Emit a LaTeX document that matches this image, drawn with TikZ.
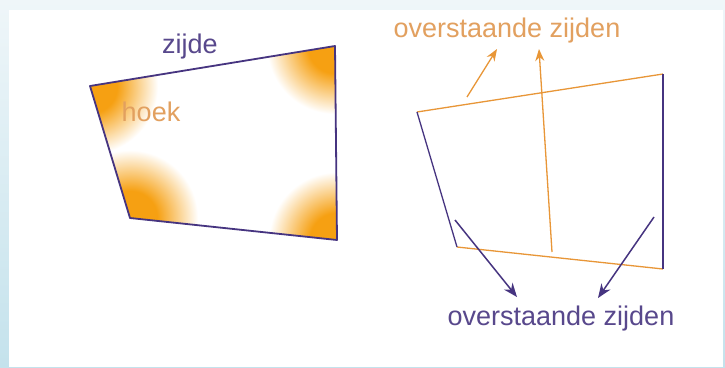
\documentclass[tikz,border=0pt]{standalone}
\usepackage{fontspec}
\setmainfont{Liberation Sans}
\usetikzlibrary{arrows.meta}
\definecolor{paars}{RGB}{70,52,128}
\definecolor{tekstpaars}{RGB}{88,72,140}
\definecolor{oranje}{RGB}{232,150,55}
\definecolor{tekstoranje}{RGB}{226,160,95}
\definecolor{hoekoranje}{RGB}{246,160,18}
\definecolor{bgtop}{RGB}{239,246,249}
\definecolor{bgbot}{RGB}{196,226,236}
\pgfdeclareradialshading{hoekvlek}{\pgfpoint{0bp}{0bp}}{color(0bp)=(hoekoranje); color(10bp)=(hoekoranje); color(25bp)=(white); color(50bp)=(white)}
\tikzset{
  tekst/.style={font=\fontsize{27}{32}\selectfont, inner sep=0pt, anchor=base},
  paarspijl/.style={draw=paars, line width=1.5pt, -{Stealth[length=14pt,width=11pt]}},
  oranjepijl/.style={draw=oranje, line width=1.3pt, -{Stealth[length=12pt,width=9pt]}}
}

\begin{document}
\begin{tikzpicture}[x=1pt,y=-1pt]
\useasboundingbox (0,0) rectangle (725,367);
% Background
\shade[top color=bgtop, bottom color=bgbot] (0,0) rectangle (725,367);
\fill[white] (9,10) rectangle (723,367);

% Left quadrilateral: zijde en hoek
\coordinate (A) at (90,86);
\coordinate (B) at (335,46);
\coordinate (C) at (337,240);
\coordinate (D) at (130,218);
\begin{scope}
\clip (A) -- (B) -- (C) -- (D) -- cycle;
\foreach \c in {A,B,C,D} {
  \shade[shading=hoekvlek] (\c) circle (68pt);
}
\end{scope}
\draw[paars, line width=1.8pt, line join=round] (A) -- (B) -- (C) -- (D) -- cycle;
\node[tekst, text=tekstpaars] (zijde) at (190,53) {zijde};
\node[tekst, text=tekstoranje] (hoek) at (151,121) {hoek};

% Right quadrilateral: overstaande zijden
\coordinate (E) at (417,112);
\coordinate (F) at (663,74);
\coordinate (G) at (663,269);
\coordinate (H) at (457,247);
\draw[oranje, line width=1.3pt] (E) -- (F);
\draw[oranje, line width=1.3pt] (H) -- (G);
\draw[paars, line width=1.3pt] (E) -- (H);
\draw[paars, line width=1.3pt] (F) -- (G);

% Labels
\node[tekst, text=tekstoranje] (boven) at (507,37) {overstaande zijden};
\node[tekst, text=tekstpaars] (onder) at (561,325) {overstaande zijden};

% Arrows
\coordinate (o1) at (467,97);
\coordinate (o1t) at (497,49);
\coordinate (o2) at (552,252);
\coordinate (o2t) at (539,49);
\coordinate (p1) at (455,220);
\coordinate (p1t) at (517,297);
\coordinate (p2) at (654,217);
\coordinate (p2t) at (598,298);
\draw[oranjepijl] (o1) -- (o1t);
\draw[oranjepijl] (o2) -- (o2t);
\draw[paarspijl] (p1) -- (p1t);
\draw[paarspijl] (p2) -- (p2t);
\end{tikzpicture}
\end{document}
